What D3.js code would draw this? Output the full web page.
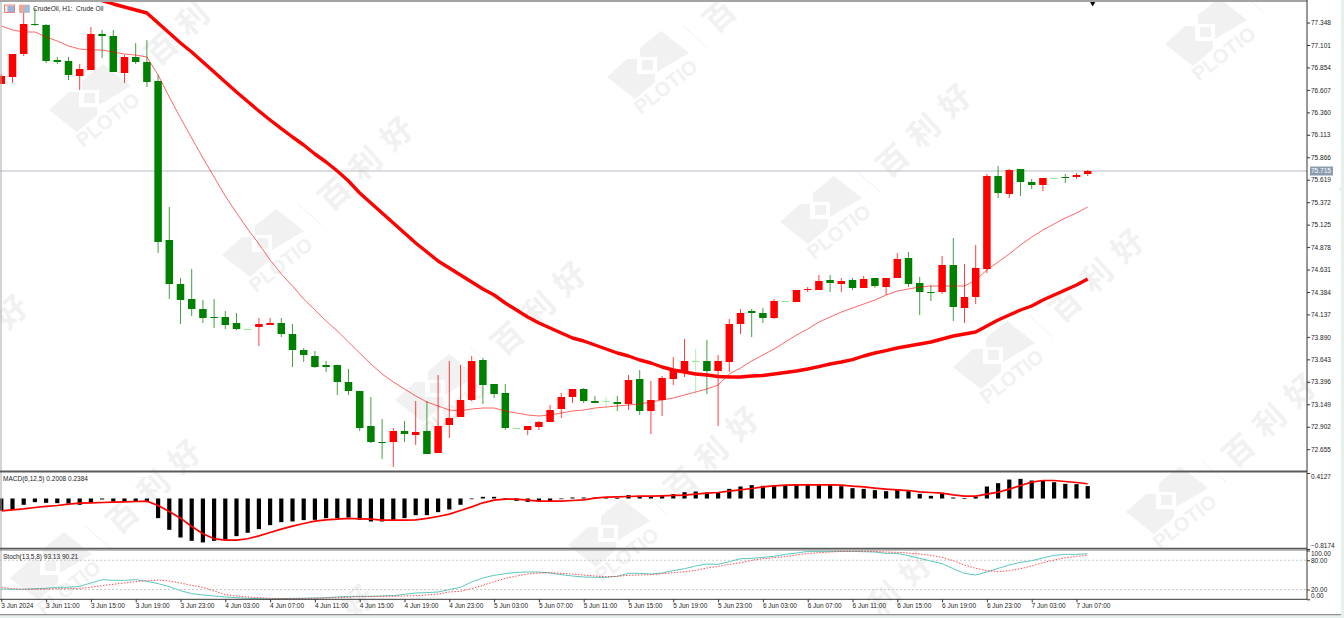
<!DOCTYPE html>
<html>
<head>
<meta charset="utf-8">
<script src="https://cdn.jsdelivr.net/npm/d3@7"></script>
<style>
  html, body { margin: 0; padding: 0; background: #fff; overflow: hidden; }
  text { font-family: 'Liberation Sans', sans-serif; }
</style>
</head>
<body>
<svg id="chart" width="1344" height="618"></svg>
<script>
const candleOpen = [76.672,76.749,77.002,77.332,77.321,76.936,76.925,76.760,76.826,77.222,77.200,76.793,76.969,76.914,76.705,74.956,74.472,74.307,74.197,74.109,74.109,74.043,73.977,73.999,74.021,74.043,73.922,73.746,73.680,73.581,73.581,73.394,73.295,72.910,72.734,72.734,72.855,72.811,72.855,72.613,72.921,73.009,73.196,73.636,73.372,73.273,72.888,72.866,72.899,72.954,73.097,73.229,73.317,73.185,73.185,73.174,73.152,73.427,73.075,73.196,73.427,73.504,73.625,73.625,73.515,73.614,74.032,74.175,74.153,74.098,74.285,74.274,74.406,74.406,74.516,74.472,74.516,74.428,74.538,74.439,74.538,74.758,74.483,74.384,74.384,74.681,74.208,74.329,74.637,75.660,75.462,75.737,75.594,75.561,75.638,75.649,75.649,75.682];
const candleHigh = [76.782,77.002,77.508,77.508,77.332,76.969,76.969,76.892,77.299,77.266,77.266,76.991,77.123,77.156,76.771,75.319,74.538,74.637,74.296,74.307,74.175,74.153,73.977,74.098,74.098,74.098,74.032,73.768,73.735,73.625,73.581,73.537,73.295,73.229,72.987,72.888,72.965,73.185,73.185,73.471,73.625,73.581,73.680,73.658,73.372,73.372,72.888,72.910,72.965,73.141,73.273,73.317,73.328,73.240,73.229,73.240,73.471,73.526,73.405,73.460,73.669,73.867,73.757,73.856,73.691,74.087,74.197,74.197,74.208,74.307,74.285,74.406,74.439,74.571,74.571,74.538,74.538,74.560,74.538,74.538,74.813,74.824,74.549,74.461,74.780,74.978,74.692,74.901,75.682,75.770,75.737,75.737,75.627,75.638,75.638,75.682,75.693,75.726];
const candleLow = [76.672,76.683,76.980,77.310,76.903,76.892,76.716,76.606,76.826,76.958,76.804,76.683,76.892,76.639,74.813,74.307,74.032,74.120,74.043,73.988,73.977,73.966,73.977,73.790,74.021,73.889,73.559,73.614,73.548,73.504,73.251,73.251,72.855,72.723,72.547,72.459,72.734,72.701,72.602,72.613,72.778,73.009,73.185,73.152,73.218,72.866,72.888,72.811,72.866,72.954,72.998,73.163,73.163,73.163,73.108,73.075,73.086,73.031,72.822,73.020,73.361,73.449,73.273,73.262,72.910,73.504,73.922,73.889,74.043,74.087,74.285,74.274,74.384,74.406,74.384,74.384,74.406,74.428,74.428,74.351,74.538,74.439,74.131,74.285,74.362,74.065,74.043,74.252,74.593,75.418,75.418,75.440,75.517,75.495,75.638,75.583,75.627,75.660];
const candleClose = [76.760,77.002,77.332,77.321,76.925,76.914,76.771,76.837,77.222,77.200,76.804,76.969,76.914,76.694,74.934,74.472,74.296,74.197,74.098,74.098,74.021,73.977,73.977,74.032,74.043,73.922,73.746,73.691,73.559,73.559,73.394,73.295,72.888,72.734,72.723,72.855,72.822,72.844,72.602,72.910,72.998,73.196,73.625,73.361,73.262,72.888,72.888,72.910,72.954,73.086,73.229,73.317,73.185,73.163,73.185,73.152,73.416,73.075,73.196,73.438,73.526,73.625,73.625,73.515,73.625,74.032,74.153,74.153,74.098,74.285,74.285,74.406,74.417,74.505,74.483,74.505,74.428,74.527,74.450,74.538,74.747,74.472,74.384,74.373,74.681,74.219,74.329,74.648,75.660,75.473,75.726,75.594,75.561,75.638,75.638,75.638,75.671,75.715];

const fastMa = [77.310,77.266,77.244,77.244,77.189,77.145,77.090,77.057,77.046,77.046,77.024,77.002,76.991,76.969,76.771,76.529,76.298,76.078,75.858,75.649,75.440,75.253,75.077,74.912,74.736,74.582,74.450,74.307,74.186,74.065,73.955,73.834,73.713,73.592,73.482,73.394,73.317,73.240,73.174,73.130,73.086,73.075,73.097,73.108,73.108,73.075,73.053,73.031,73.020,73.031,73.053,73.075,73.086,73.108,73.119,73.130,73.141,73.152,73.174,73.196,73.218,73.251,73.284,73.317,73.361,73.482,73.548,73.625,73.691,73.757,73.834,73.911,73.977,74.054,74.109,74.164,74.208,74.252,74.296,74.351,74.395,74.417,74.439,74.450,74.450,74.450,74.450,74.516,74.626,74.714,74.802,74.901,74.989,75.066,75.132,75.198,75.253,75.319];
// starts off the top of the chart, so it is aligned to the last bar
const slowMa = [77.629,77.590,77.552,77.519,77.486,77.453,77.343,77.233,77.123,77.024,76.914,76.804,76.694,76.584,76.479,76.375,76.276,76.182,76.089,76.001,75.902,75.814,75.715,75.605,75.473,75.363,75.253,75.143,75.033,74.923,74.824,74.725,74.648,74.571,74.494,74.417,74.351,74.263,74.186,74.109,74.043,73.988,73.933,73.878,73.845,73.801,73.757,73.713,73.680,73.636,73.603,73.559,73.526,73.504,73.482,73.471,73.455,73.449,73.449,73.460,73.465,73.482,73.499,73.515,73.537,73.564,73.592,73.614,73.641,73.680,73.713,73.740,73.768,73.790,73.812,73.834,73.867,73.900,73.922,73.944,74.010,74.076,74.131,74.186,74.230,74.296,74.351,74.406,74.461,74.527];

const macdHist = [-0.199,-0.183,-0.102,-0.059,-0.070,-0.075,-0.081,-0.102,-0.059,-0.016,-0.049,-0.049,-0.054,-0.054,-0.318,-0.507,-0.631,-0.685,-0.711,-0.685,-0.663,-0.609,-0.555,-0.496,-0.431,-0.383,-0.372,-0.350,-0.345,-0.318,-0.318,-0.307,-0.345,-0.372,-0.372,-0.345,-0.318,-0.270,-0.270,-0.221,-0.178,-0.102,-0.005,0.027,0.027,0.005,-0.038,-0.054,-0.049,-0.043,-0.005,0.016,0.016,0.016,0.016,0.005,0.054,0.038,0.038,0.054,0.070,0.102,0.113,0.097,0.102,0.156,0.194,0.216,0.205,0.216,0.216,0.216,0.216,0.216,0.216,0.199,0.167,0.156,0.135,0.119,0.146,0.119,0.075,0.043,0.075,0.016,0.005,0.027,0.194,0.248,0.307,0.318,0.291,0.296,0.264,0.237,0.232,0.2008];
const macdSignal = [-0.199,-0.183,-0.167,-0.146,-0.129,-0.113,-0.092,-0.075,-0.070,-0.065,-0.059,-0.054,-0.049,-0.043,-0.113,-0.210,-0.318,-0.453,-0.571,-0.652,-0.674,-0.674,-0.652,-0.604,-0.550,-0.496,-0.447,-0.404,-0.367,-0.345,-0.334,-0.323,-0.329,-0.334,-0.350,-0.350,-0.350,-0.345,-0.323,-0.291,-0.253,-0.194,-0.135,-0.070,-0.027,-0.011,-0.011,-0.027,-0.043,-0.043,-0.043,-0.032,-0.022,0.005,0.022,0.027,0.032,0.038,0.038,0.043,0.049,0.054,0.070,0.086,0.097,0.119,0.140,0.162,0.189,0.205,0.216,0.221,0.221,0.221,0.221,0.216,0.199,0.189,0.167,0.151,0.140,0.129,0.108,0.097,0.086,0.059,0.038,0.038,0.070,0.102,0.151,0.210,0.264,0.291,0.291,0.275,0.259,0.2384];

const stochK = [21.1,20.5,20.5,21.8,22.5,24.6,24.6,26.6,33.4,40.2,38.9,38.9,40.2,36.8,32.1,25.9,17.7,11.6,8.9,6.8,4.8,3.4,2.0,1.4,0.7,1.4,2.0,2.0,2.7,3.4,4.8,6.1,6.1,6.1,6.8,7.5,10.2,13.0,13.6,15.0,19.8,24.6,35.5,43.6,49.1,52.5,55.2,55.9,55.9,53.9,50.5,47.7,45.7,45.0,45.0,47.1,53.2,53.2,51.8,53.9,58.7,62.7,68.2,72.3,71.6,77.1,83.2,83.9,85.9,88.0,92.1,94.8,98.2,98.2,98.2,98.2,98.2,97.5,96.8,94.1,94.1,89.3,83.9,78.4,73.0,62.7,53.2,49.8,55.9,63.4,70.2,75.7,79.1,84.6,90.0,92.1,92.1,93.13];
const stochD = [24.6,21.8,20.5,20.5,21.1,21.8,21.8,22.5,24.6,28.0,30.7,33.4,36.1,38.2,39.6,37.5,33.4,28.6,24.6,17.1,9.5,6.8,4.8,3.4,2.0,1.4,1.4,2.0,2.0,2.7,3.4,4.1,5.5,5.5,6.1,6.1,6.8,7.5,8.9,10.9,15.0,16.4,21.8,28.6,36.1,43.0,47.7,51.8,53.9,54.6,53.2,51.8,49.8,47.7,46.4,47.1,49.1,49.8,50.5,52.5,54.6,56.6,59.3,64.1,67.5,71.6,75.0,79.8,83.2,85.3,87.3,90.7,94.1,95.5,96.8,98.2,98.2,98.2,98.2,96.8,96.2,94.8,92.8,90.0,85.9,79.1,70.2,63.4,58.7,56.6,58.7,62.7,68.2,75.0,80.5,85.3,88.0,90.21];

const priceTicks = [77.348,77.101,76.854,76.607,76.360,76.113,75.866,75.619,75.372,75.125,74.878,74.631,74.384,74.137,73.890,73.643,73.396,73.149,72.902,72.655];
const macdTicks = [0.4127,-0.8174];
const stochTicks = [100,80,20,0];
const stochLevels = [80,20];
const timeLabels = ['3 Jun 2024','3 Jun 11:00','3 Jun 15:00','3 Jun 19:00','3 Jun 23:00','4 Jun 03:00','4 Jun 07:00','4 Jun 11:00','4 Jun 15:00','4 Jun 19:00','4 Jun 23:00','5 Jun 03:00','5 Jun 07:00','5 Jun 11:00','5 Jun 15:00','5 Jun 19:00','5 Jun 23:00','6 Jun 03:00','6 Jun 07:00','6 Jun 11:00','6 Jun 15:00','6 Jun 19:00','6 Jun 23:00','7 Jun 03:00','7 Jun 07:00'];
const lastPrice = 75.715;

const W = 1344, H = 618;
const plotRight = 1307;
const panel = {
  main: {top: 1, bottom: 471},
  macd: {top: 473, bottom: 548},
  stoch: {top: 550.5, bottom: 599.3}
};

const svg = d3.select('#chart');
const barIdx = d3.range(candleClose.length);

const x = d3.scaleLinear().domain([0, candleClose.length - 1]).range([1.3, 1087.7]);
const y = d3.scaleLinear().domain([72.415, 77.585]).range([panel.main.bottom, panel.main.top]);
const yMacd = d3.scaleLinear().domain([-0.8174, 0.4127]).range([549, 473]);
const yStoch = d3.scaleLinear().domain([0, 100]).range([panel.stoch.bottom, panel.stoch.top]);

const inView = (px, py) => px > -6 && px < W - 6 && py > 4 && py < H - 6;

// watermark stamps on a repeating lattice, behind everything
const wm = svg.append('g').attr('class', 'watermark');
const wmFill = '#f1f1f1';
d3.range(-2, 4).forEach(n => {
  d3.range(-3, 6).forEach(m => {
    const ax = 90 + 173 * m + 558 * n, ay = 98 + 145 * m - 33 * n;
    if (ax < -160 || ax > W + 60 || ay < -60 || ay > H + 130) return;
    const g = wm.append('g').attr('transform', `translate(${ax},${ay})`);
    g.append('polygon').attr('fill', wmFill)
      .attr('points', '-8,-17 13,-34 41,-12 9,7 9,-8 -8,-8');
    g.append('polygon').attr('fill', wmFill)
      .attr('points', '-41,12 -21,-6 -11,-6 -11,9 7,9 7,17 -13,34');
    g.append('rect').attr('x', -6).attr('y', -5).attr('width', 11).attr('height', 10).attr('fill', wmFill);
    if (inView(ax + 22, ay + 27)) {
      g.append('text').attr('transform', 'translate(22,27) rotate(-38)')
        .attr('text-anchor', 'middle').attr('font-size', 20).attr('font-weight', 700)
        .attr('fill', wmFill).text('PLOTIO');
    }
    g.append('line').attr('x1', 34).attr('y1', -40).attr('x2', 59).attr('y2', -18)
      .attr('stroke', wmFill);
    ['百', '利', '好'].forEach((ch, k) => {
      const cx = 70 + 31 * k, cy = -51 - 30 * k;
      if (!inView(ax + cx, ay + cy)) return;
      g.append('text')
        .attr('transform', `translate(${cx},${cy}) rotate(-42)`)
        .attr('text-anchor', 'middle').attr('dominant-baseline', 'central')
        .attr('font-size', 31).attr('font-weight', 700)
        .style('font-family', "'Noto Sans CJK SC'")
        .attr('fill', wmFill).text(ch);
    });
  });
});

// window edge
svg.append('rect').attr('x', 1341).attr('y', 0).attr('width', 3).attr('height', H).attr('fill', '#e8f0ee');
svg.append('rect').attr('x', 0).attr('y', 615).attr('width', W).attr('height', 3).attr('fill', '#e8f0ee');
svg.append('line').attr('x1', 0).attr('x2', 1341).attr('y1', 614.7).attr('y2', 614.7).attr('stroke', '#777');

svg.append('clipPath').attr('id', 'mainClip').append('rect')
  .attr('x', 0).attr('y', panel.main.top).attr('width', plotRight).attr('height', panel.main.bottom - panel.main.top);

// last price line sits under the candles
svg.append('line').attr('x1', 0).attr('x2', plotRight)
  .attr('y1', y(lastPrice)).attr('y2', y(lastPrice))
  .attr('stroke', '#b4bbc3').attr('stroke-width', 1.2);

const main = svg.append('g').attr('clip-path', 'url(#mainClip)');
const upColor = '#ff0000', downColor = '#008000', flatColor = '#90ee90';
const candleColor = i => candleClose[i] === candleOpen[i] ? flatColor
  : candleClose[i] > candleOpen[i] ? upColor : downColor;

main.selectAll('line.wick').data(barIdx).enter().append('line')
  .attr('class', 'wick')
  .attr('x1', i => x(i)).attr('x2', i => x(i))
  .attr('y1', i => y(candleHigh[i])).attr('y2', i => y(candleLow[i]))
  .attr('stroke', candleColor).attr('stroke-width', 1).attr('stroke-opacity', 0.75);

main.selectAll('rect.body').data(barIdx).enter().append('rect')
  .attr('class', 'body')
  .attr('x', i => x(i) - 3.75).attr('width', 7.5)
  .attr('y', i => y(Math.max(candleOpen[i], candleClose[i])))
  .attr('height', i => Math.max(1, Math.abs(y(candleOpen[i]) - y(candleClose[i]))))
  .attr('fill', candleColor);

const priceLine = d3.line().x(d => x(d[0])).y(d => y(d[1]));
main.append('path')
  .attr('d', priceLine(fastMa.map((v, i) => [i, v])))
  .attr('fill', 'none').attr('stroke', '#ff0000').attr('stroke-opacity', 0.6).attr('stroke-width', 1);
const slowStart = candleClose.length - slowMa.length;
main.append('path')
  .attr('d', priceLine(slowMa.map((v, i) => [i + slowStart, v])))
  .attr('fill', 'none').attr('stroke', '#ff0000').attr('stroke-width', 3.4).attr('stroke-linejoin', 'round');

// arrow marker at the top edge
main.append('path')
  .attr('d', d3.symbol().type(d3.symbolTriangle).size(26)())
  .attr('transform', `translate(${x(candleClose.length - 1) + 5},2) rotate(180)`)
  .attr('fill', '#000');

// MACD
svg.selectAll('rect.hist').data(barIdx).enter().append('rect')
  .attr('class', 'hist')
  .attr('x', i => x(i) - 2.1).attr('width', 4.2)
  .attr('y', i => Math.min(yMacd(0), yMacd(macdHist[i])))
  .attr('height', i => Math.max(0.7, Math.abs(yMacd(macdHist[i]) - yMacd(0))))
  .attr('fill', '#000');
svg.append('path')
  .attr('d', d3.line().x((d, i) => x(i)).y(d => yMacd(d))(macdSignal))
  .attr('fill', 'none').attr('stroke', '#ff0000').attr('stroke-width', 1.7);

// Stochastic
svg.selectAll('line.level').data(stochLevels).enter().append('line')
  .attr('class', 'level')
  .attr('x1', 0).attr('x2', plotRight)
  .attr('y1', d => yStoch(d)).attr('y2', d => yStoch(d))
  .attr('stroke', '#c8c8c8').attr('stroke-dasharray', '2,2');
const stochLine = d3.line().x((d, i) => x(i)).y(d => yStoch(d));
svg.append('path').attr('d', stochLine(stochK))
  .attr('fill', 'none').attr('stroke', '#5cc8bf').attr('stroke-width', 1);
svg.append('path').attr('d', stochLine(stochD))
  .attr('fill', 'none').attr('stroke', '#ff3030').attr('stroke-opacity', 0.85).attr('stroke-dasharray', '1.5,1.5');

// panel frames
const frame = '#8a8a8a', dark = '#5a5a5a';
svg.append('line').attr('x1', 0).attr('x2', plotRight).attr('y1', 1).attr('y2', 1).attr('stroke', '#a4a4a4').attr('stroke-width', 2);
svg.append('line').attr('x1', 1).attr('x2', 1).attr('y1', 1).attr('y2', panel.stoch.bottom).attr('stroke', '#aaa').attr('stroke-width', 1);
svg.append('line').attr('x1', 0).attr('x2', plotRight).attr('y1', 471.6).attr('y2', 471.6).attr('stroke', dark).attr('stroke-width', 2);
svg.append('line').attr('x1', 0).attr('x2', plotRight).attr('y1', 548.6).attr('y2', 548.6).attr('stroke', dark).attr('stroke-width', 1.8);
svg.append('line').attr('x1', 0).attr('x2', plotRight).attr('y1', 550.2).attr('y2', 550.2).attr('stroke', frame).attr('stroke-width', 0.8);
svg.append('line').attr('x1', plotRight).attr('x2', plotRight).attr('y1', 0).attr('y2', panel.stoch.bottom).attr('stroke', '#333');
svg.append('line').attr('x1', 0).attr('x2', plotRight).attr('y1', panel.stoch.bottom).attr('y2', panel.stoch.bottom).attr('stroke', '#333');

// axes
const styleAxis = g => {
  g.select('.domain').remove();
  g.selectAll('line').attr('stroke', '#333');
  g.selectAll('text').attr('fill', '#222').attr('font-size', 6.5);
};
svg.append('g').attr('transform', `translate(${plotRight},0)`)
  .call(d3.axisRight(y).tickValues(priceTicks).tickFormat(d3.format('.3f')).tickSize(3).tickPadding(1))
  .call(styleAxis);
svg.append('g').attr('transform', `translate(${plotRight},0)`)
  .call(d3.axisRight(yMacd).tickValues(macdTicks).tickFormat(d3.format('.4f')).tickSize(3).tickPadding(1))
  .call(styleAxis)
  .selectAll('text').attr('dy', d => d > 0 ? '0.9em' : '-0.3em');
svg.append('g').attr('transform', `translate(${plotRight},0)`)
  .call(d3.axisRight(yStoch).tickValues(stochTicks).tickFormat(d3.format('.2f')).tickSize(3).tickPadding(1))
  .call(styleAxis)
  .selectAll('text').attr('dy', d => d === 100 ? '0.8em' : d === 0 ? '-0.25em' : '0.32em');

const timeIdx = timeLabels.map((d, k) => k * 4);
svg.append('g').attr('transform', `translate(0,${panel.stoch.bottom})`)
  .call(d3.axisBottom(x).tickValues(timeIdx).tickFormat((d, k) => timeLabels[k]).tickSize(3).tickPadding(1))
  .call(styleAxis)
  .selectAll('text').attr('text-anchor', 'start').attr('dx', -0.5);

// current price tag
svg.append('rect').attr('x', 1310).attr('y', y(lastPrice) - 4.5).attr('width', 23).attr('height', 9).attr('fill', '#8b9bb0');
svg.append('text').attr('x', 1311).attr('y', y(lastPrice)).attr('dy', '0.33em')
  .attr('font-size', 6.5).attr('fill', '#fff').text(d3.format('.3f')(lastPrice));

// titles
const label = (tx, ty, str) => svg.append('text').attr('x', tx).attr('y', ty).attr('dy', '0.33em')
  .attr('font-size', 6.5).attr('fill', '#222').text(str);
label(33, 9, 'CrudeOil, H1:  Crude Oil').style('white-space', 'pre');
label(3, 479, 'MACD(6,12,5) 0.2008 0.2384');
label(3, 557, 'Stoch(13,5,8) 93.13 90.21');

// little toolbar icons
const icon1 = svg.append('g').attr('transform', 'translate(4.5,5)');
icon1.append('rect').attr('width', 10).attr('height', 7.5).attr('fill', '#fbe3df').attr('stroke', '#e8776a').attr('stroke-width', 0.9);
[2, 4, 6].forEach(v => icon1.append('line').attr('x1', 3).attr('x2', 9.5).attr('y1', v).attr('y2', v).attr('stroke', '#2f86d8').attr('stroke-width', 1));
const icon2 = svg.append('g').attr('transform', 'translate(19.5,5)');
icon2.append('rect').attr('width', 10).attr('height', 7.5).attr('fill', '#8fc3ea').attr('stroke', '#c9a9a0').attr('stroke-width', 0.6);
icon2.append('polygon').attr('points', '0,0 5.5,0 5.5,3 3.5,7.5 0,7.5').attr('fill', '#f3a394');
</script>
</body>
</html>
